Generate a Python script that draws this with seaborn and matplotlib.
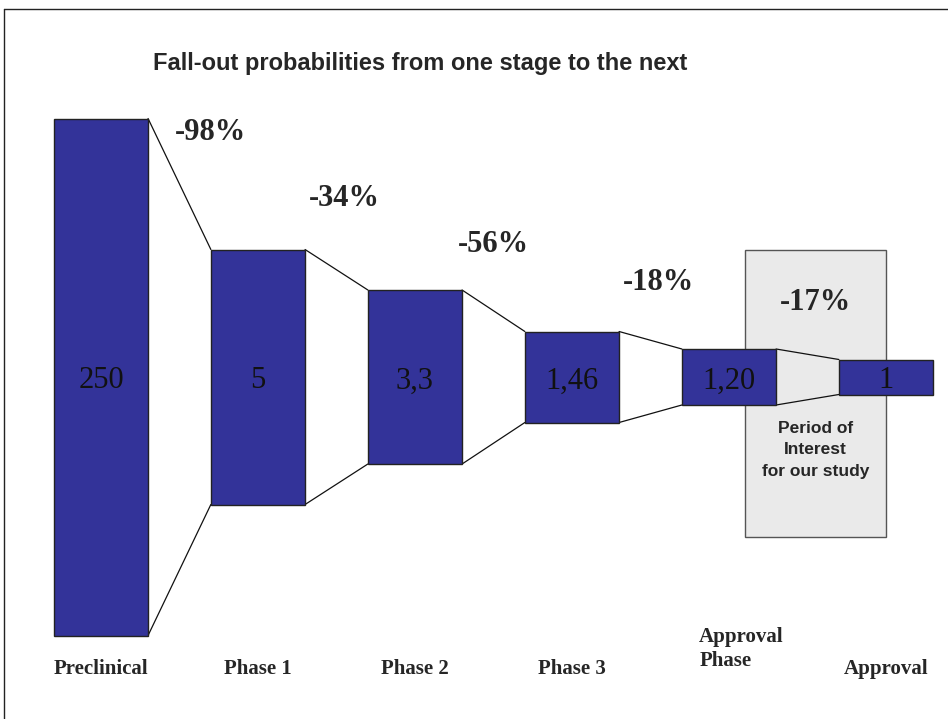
import pandas as pd
import seaborn as sns
from matplotlib import pyplot as plt
from matplotlib.patches import Rectangle
from matplotlib.lines import Line2D

# chart data
stages = ["Preclinical", "Phase 1", "Phase 2", "Phase 3", "Approval\nPhase", "Approval"]
value_labels = ["250", "5", "3,3", "1,46", "1,20", "1"]
funnel_height = [517, 255, 174, 91, 56, 35]      # drawn bar height of each stage
falloff = ["-98%", "-34%", "-56%", "-18%", "-17%"]

BAR_COLOR = "#333399"
BAR_WIDTH = 0.6

df = pd.DataFrame({"stage": stages, "height": funnel_height})

sns.set_style("white")
fig = plt.figure(figsize=(9.48, 7.19), dpi=100)
ax = fig.add_axes([0, 0, 1, 1])

# funnel bars, centred on y = 0
sns.barplot(data=df, x="stage", y="height", color=BAR_COLOR, width=BAR_WIDTH,
            saturation=1, edgecolor="#222222", linewidth=1, ax=ax, zorder=3)
for patch in ax.patches:
    patch.set_y(-patch.get_height() / 2)

# connecting lines between neighbouring stages
for i in range(len(stages) - 1):
    x0, x1 = i + BAR_WIDTH / 2, i + 1 - BAR_WIDTH / 2
    h0, h1 = funnel_height[i] / 2, funnel_height[i + 1] / 2
    ax.plot([x0, x1], [h0, h1], color="#111111", lw=0.9, zorder=2)
    ax.plot([x0, x1], [-h0, -h1], color="#111111", lw=0.9, zorder=2)

# "period of interest" box
ax.add_patch(Rectangle((4.1, -160), 0.9, 287, facecolor="#eaeaea",
                       edgecolor="#555555", lw=1, zorder=1))
ax.text(4.55, -73, "Period of\nInterest\nfor our study", ha="center", va="center",
        fontsize=12.5, fontweight="bold", family="Liberation Sans",
        linespacing=1.55, zorder=4)

# values inside bars
for i, lab in enumerate(value_labels):
    ax.text(i, -4, lab, ha="center", va="center", fontsize=22,
            family="Liberation Serif", color="#111111", zorder=4)

# fall-out percentages
pct_x = [0.7, 1.55, 2.5, 3.55, 4.55]
pct_y = [245, 179, 133, 94, 74]
for i, lab in enumerate(falloff):
    ax.text(pct_x[i], pct_y[i], lab, ha="center", va="center", fontsize=22,
            fontweight="bold", family="Liberation Serif", zorder=4)

# stage names
for i, lab in enumerate(stages):
    if "\n" in lab:
        ax.text(i + 0.08, -272, lab, ha="center", va="center", multialignment="left",
                fontsize=15, fontweight="bold", family="Liberation Serif", linespacing=1.3)
    else:
        ax.text(i, -292, lab, ha="center", va="center",
                fontsize=15, fontweight="bold", family="Liberation Serif")

ax.set_xlim(-0.643, 5.395)
ax.set_ylim(-342, 377)
ax.axis("off")

fig.text(0.443, 0.912, "Fall-out probabilities from one stage to the next",
         ha="center", va="center", fontsize=17, fontweight="bold", family="Liberation Sans")

# frame around the slide
fig.add_artist(Line2D([4 / 948, 1], [1 - 9 / 719, 1 - 9 / 719], color="#222222", lw=1))
fig.add_artist(Line2D([4 / 948, 4 / 948], [0, 1 - 9 / 719], color="#222222", lw=1))

fig.savefig("out.png", dpi=100)
